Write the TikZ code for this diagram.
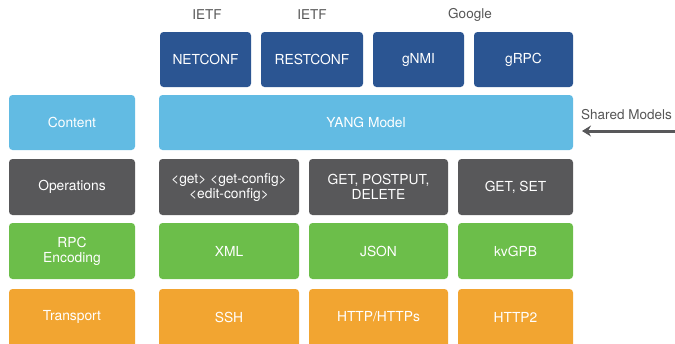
\documentclass[tikz,border=0pt]{standalone}
\usepackage{fontspec}
\setmainfont{TeX Gyre Heros}
\usetikzlibrary{arrows.meta}
\definecolor{dblue}{HTML}{2B5592}
\definecolor{lblue}{HTML}{62BBE3}
\definecolor{dgray}{HTML}{58585A}
\definecolor{lgreen}{HTML}{6CBE4A}
\definecolor{lorange}{HTML}{F2A531}
\definecolor{labgray}{HTML}{555555}
\tikzset{
  blk/.style={draw=none, text=white, align=center,
    font=\fontsize{13.8}{15}\selectfont},
  lab/.style={text=labgray, font=\fontsize{13.5}{15}\selectfont},
  boxfill/.style={rounded corners=3.5pt},
}
\begin{document}
\begin{tikzpicture}[x=1pt,y=-1pt]
\useasboundingbox (0,0) rectangle (675,343);
% top row
\fill[dblue, boxfill] (160,32) rectangle (251,87);
\node[blk] (netconf) at (205.5,59.5) {NETCONF};
\fill[dblue, boxfill] (261,32) rectangle (363,87);
\node[blk] (restconf) at (312,59.5) {RESTCONF};
\fill[dblue, boxfill] (373,32) rectangle (464,87);
\node[blk] (gnmi) at (418.5,59.5) {gNMI};
\fill[dblue, boxfill] (474,32) rectangle (573,87);
\node[blk] (grpc) at (523.5,59.5) {gRPC};
\node[lab] (ietf1) at (207,15) {IETF};
\node[lab] (ietf2) at (312,15) {IETF};
\node[lab] (google) at (470,15) {Google};
% content row
\fill[lblue, boxfill] (9,95) rectangle (135,150);
\node[blk] (content) at (72,122.5) {Content};
\fill[lblue, boxfill] (159,95) rectangle (573,150);
\node[blk] (yang) at (366,122.5) {YANG Model};
% operations row
\fill[dgray, boxfill] (9,159) rectangle (135,215);
\node[blk] (ops) at (72,187) {Operations};
\fill[dgray, boxfill] (159,159) rectangle (299,215);
\node[blk] (netops) at (229,187) {<get> <get-config>\\<edit-config>};
\fill[dgray, boxfill] (309,159) rectangle (448,215);
\node[blk] (restops) at (378.5,187) {GET, POSTPUT,\\DELETE};
\fill[dgray, boxfill] (458,159) rectangle (573,215);
\node[blk] (gops) at (515.5,187) {GET, SET};
% encoding row
\fill[lgreen, boxfill] (9,223) rectangle (135,279);
\node[blk] (enc) at (72,251) {RPC\\Encoding};
\fill[lgreen, boxfill] (159,223) rectangle (299,279);
\node[blk] (xml) at (229,251) {XML};
\fill[lgreen, boxfill] (309,223) rectangle (448,279);
\node[blk] (json) at (378.5,251) {JSON};
\fill[lgreen, boxfill] (458,223) rectangle (573,279);
\node[blk] (kvgpb) at (515.5,251) {kvGPB};
% transport row
\fill[lorange, boxfill] (9,289) rectangle (135,348);
\node[blk] (trans) at (72,317) {Transport};
\fill[lorange, boxfill] (159,289) rectangle (299,348);
\node[blk] (ssh) at (229,317) {SSH};
\fill[lorange, boxfill] (309,289) rectangle (448,348);
\node[blk] (http) at (378.5,317) {HTTP/HTTPs};
\fill[lorange, boxfill] (458,289) rectangle (573,348);
\node[blk] (http2) at (515.5,317) {HTTP2};
% shared models
\node[lab, anchor=west, inner sep=0pt] (shared) at (581,115) {Shared Models};
\coordinate (arrS) at (676,131);
\coordinate (arrE) at (582,131);
\draw[dgray, line width=3pt, -{Stealth[length=9pt,width=11pt,inset=3pt]}] (arrS) -- (arrE);
\end{tikzpicture}
\end{document}
